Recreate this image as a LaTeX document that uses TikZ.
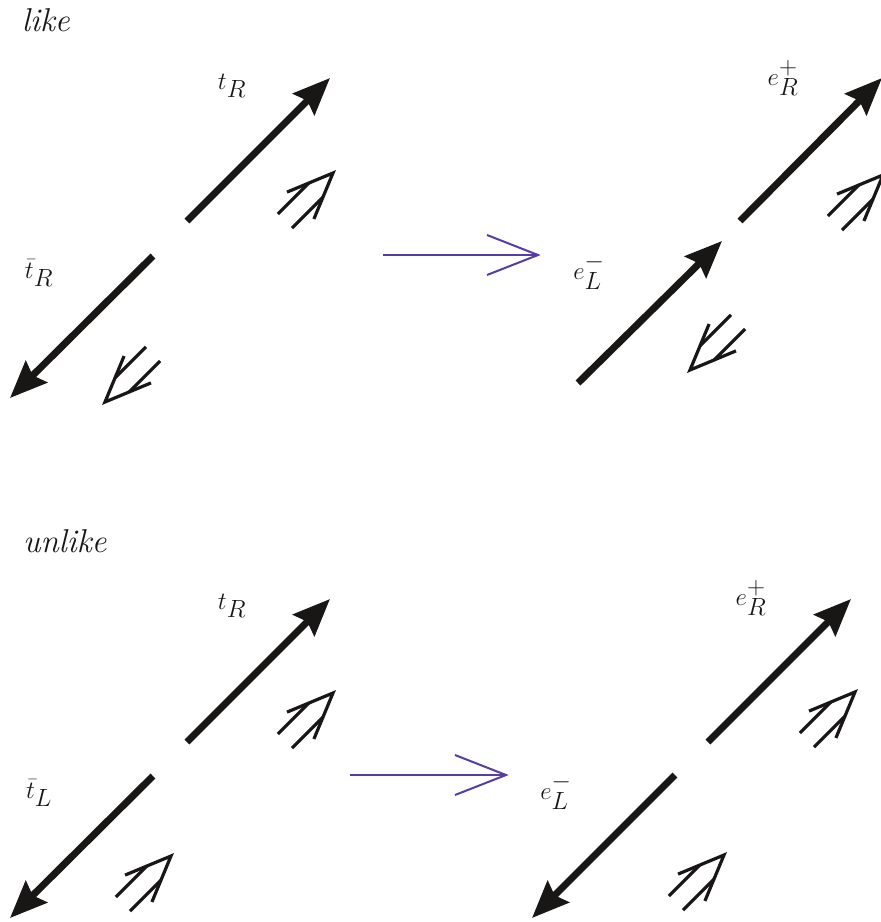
\documentclass[tikz,border=0pt]{standalone}
\usetikzlibrary{arrows.meta}
\definecolor{arrpurple}{RGB}{88,60,165}
\definecolor{ink}{RGB}{25,22,22}
\tikzset{
  mainarrow/.style={draw=ink,line width=7pt,-{Stealth[length=37pt,width=30pt,inset=5pt]}},
  spinline/.style={draw=ink,line width=3.2pt},
  maparrow/.style={draw=arrpurple,line width=2pt},
  lbl/.style={font=\fontsize{33}{40}\selectfont,inner sep=0pt,text=ink},
}
\newcommand{\spinsym}[2]{%
  \begin{scope}[shift={(#1)},rotate=#2]
    \draw[spinline] (-68,-10) -- (-24,-10);
    \draw[spinline] (-68,10) -- (-24,10);
    \draw[spinline,line join=miter] (-46,-19) -- (0,0) -- (-46,19);
  \end{scope}}
\begin{document}
\begin{tikzpicture}[x=1pt,y=-1pt]
\useasboundingbox (0,0) rectangle (881,922);
\clip (0,0) rectangle (881,922);
% ---------- like ----------
\node[lbl] (like) at (46,20) {\textit{like}};
\coordinate (a1s) at (187,221); \coordinate (a1e) at (330,78);
\coordinate (a2s) at (153,256); \coordinate (a2e) at (10,398);
\draw[mainarrow] (a1s) -- (a1e);
\draw[mainarrow] (a2s) -- (a2e);
\node[lbl] (tR1) at (232,86) {$t_R$};
\node[lbl] (tbR) at (39,273) {$\bar t_R$};
\spinsym{333,173}{45}
\spinsym{105,402}{225}
\coordinate (m1s) at (383,255); \coordinate (m1e) at (538,255);
\draw[maparrow] (m1s) -- (m1e);
\draw[maparrow] (487,235) -- (m1e) -- (487,275);
\coordinate (b1s) at (740,221); \coordinate (b1e) at (882,78);
\coordinate (b2s) at (578,383); \coordinate (b2e) at (722,241);
\draw[mainarrow] (b1s) -- (b1e);
\draw[mainarrow] (b2s) -- (b2e);
\node[lbl] (eR1) at (783,78) {$e_R^+$};
\node[lbl] (eL1) at (589,272) {$e_L^-$};
\spinsym{883,175}{45}
\spinsym{690,370}{225}
% ---------- unlike ----------
\node[lbl] (unlike) at (65,541) {\textit{unlike}};
\coordinate (c1s) at (187,742); \coordinate (c1e) at (330,599);
\coordinate (c2s) at (153,776); \coordinate (c2e) at (10,918);
\draw[mainarrow] (c1s) -- (c1e);
\draw[mainarrow] (c2s) -- (c2e);
\node[lbl] (tR2) at (232,606) {$t_R$};
\node[lbl] (tbL) at (39,793) {$\bar t_L$};
\spinsym{333,693}{45}
\spinsym{171,856}{45}
\coordinate (m2s) at (350,775); \coordinate (m2e) at (506,775);
\draw[maparrow] (m2s) -- (m2e);
\draw[maparrow] (455,755) -- (m2e) -- (455,795);
\coordinate (d1s) at (708,742); \coordinate (d1e) at (851,599);
\coordinate (d2s) at (675,775); \coordinate (d2e) at (532,918);
\draw[mainarrow] (d1s) -- (d1e);
\draw[mainarrow] (d2s) -- (d2e);
\node[lbl] (eR2) at (751,598) {$e_R^+$};
\node[lbl] (eL2) at (556,792) {$e_L^-$};
\spinsym{855,692}{45}
\spinsym{724,855}{45}
\end{tikzpicture}
\end{document}
